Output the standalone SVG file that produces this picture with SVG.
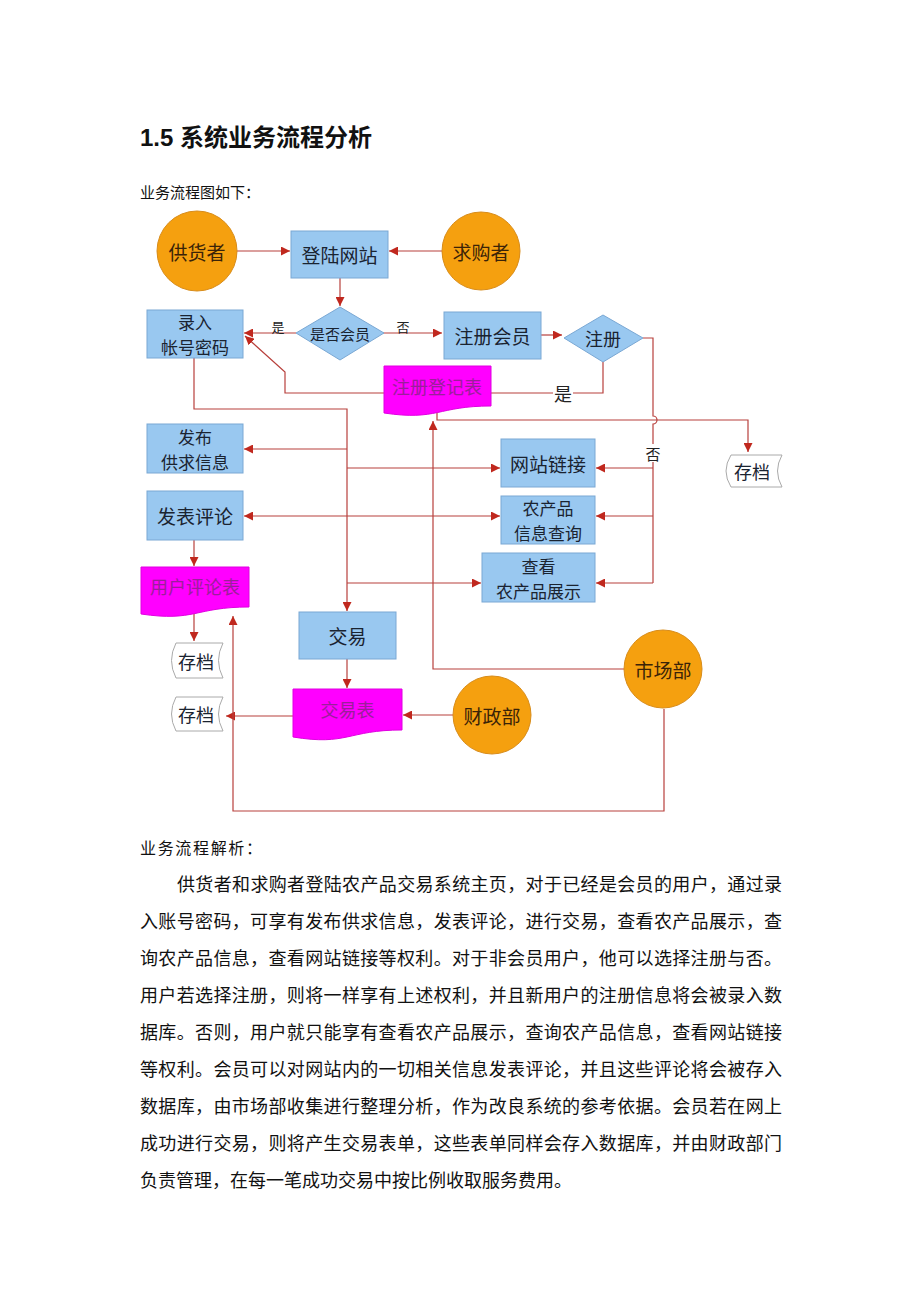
<svg xmlns="http://www.w3.org/2000/svg" width="920" height="1302" viewBox="0 0 920 1302">
<style>
text{font-family:"Noto Sans CJK SC","Liberation Sans",sans-serif;}
.title{font-family:"Liberation Sans","Noto Sans CJK SC",sans-serif;font-weight:bold;font-size:24px;fill:#111;}
.body{font-size:18px;fill:#111;}
.nt{font-size:19px;fill:#1a2330;text-anchor:middle;dominant-baseline:central;}
.nt2{font-size:17px;fill:#1a2330;text-anchor:middle;dominant-baseline:central;}
.ct{font-size:19px;fill:#3a2308;text-anchor:middle;dominant-baseline:central;}
.dt{font-size:18px;fill:#9a1f9a;text-anchor:middle;dominant-baseline:central;}
.lab{font-size:13px;fill:#222;text-anchor:middle;dominant-baseline:central;}
.box{fill:#99c8f0;stroke:#7aa8d4;stroke-width:1;}
.circ{fill:#f5a00f;stroke:#d88c1a;stroke-width:1;}
.doc{fill:#ff00ff;stroke:#e000e0;stroke-width:1;}
.sto{fill:#fff;stroke:#aaa;stroke-width:1;}
.ln{fill:none;stroke:#b8403c;stroke-width:1.2;}
</style>
<defs>
<marker id="ah" viewBox="0 0 10 10" refX="10" refY="5" markerWidth="9" markerHeight="9" markerUnits="userSpaceOnUse" orient="auto-start-reverse">
<path d="M0,0 L10,5 L0,10 Z" fill="#c0281e"/>
</marker>
</defs>

<text class="title" x="140" y="146">1.5 系统业务流程分析</text>
<text x="140" y="198" style="font-size:15px;fill:#111;">业务流程图如下：</text>

<g id="connectors">
<path class="ln" d="M237,251 H290" marker-end="url(#ah)"/>
<path class="ln" d="M442,251 H389" marker-end="url(#ah)"/>
<path class="ln" d="M340,278 V306" marker-end="url(#ah)"/>
<path class="ln" d="M296,333 H244" marker-end="url(#ah)"/>
<path class="ln" d="M383,333 H442" marker-end="url(#ah)"/>
<path class="ln" d="M541,335 H562" marker-end="url(#ah)"/>
<path class="ln" d="M603,362 V393 H491"/>
<path class="ln" d="M384,393 H285 V372 L245,336" marker-end="url(#ah)"/>
<path class="ln" d="M437,412 V420 H748 V452" marker-end="url(#ah)"/>
<path class="ln" d="M643,338 H653 V416 A4,4 0 0 1 653,424 V583"/>
<path class="ln" d="M653,468 H596" marker-end="url(#ah)"/>
<path class="ln" d="M653,516 H596" marker-end="url(#ah)"/>
<path class="ln" d="M653,583 H596" marker-end="url(#ah)"/>
<path class="ln" d="M194,358 V409 H347 V611" marker-end="url(#ah)"/>
<path class="ln" d="M347,449 H244" marker-end="url(#ah)"/>
<path class="ln" d="M347,468 H500" marker-end="url(#ah)"/>
<path class="ln" d="M244,516 H500" marker-start="url(#ah)" marker-end="url(#ah)"/>
<path class="ln" d="M347,583 H481" marker-end="url(#ah)"/>
<path class="ln" d="M194,540 V566" marker-end="url(#ah)"/>
<path class="ln" d="M194,614 V641" marker-end="url(#ah)"/>
<path class="ln" d="M347,659 V688" marker-end="url(#ah)"/>
<path class="ln" d="M293,716 H226" marker-end="url(#ah)"/>
<path class="ln" d="M453,715 H403" marker-end="url(#ah)"/>
<path class="ln" d="M624,669 H433 V421" marker-end="url(#ah)"/>
<path class="ln" d="M664,709 V811 H233 V616" marker-end="url(#ah)"/>
<text class="lab" x="278" y="326">是</text>
<text class="lab" x="403" y="326">否</text>
<rect x="553" y="382" width="20" height="22" fill="#fff"/>
<text class="lab" x="563" y="393" style="font-size:18px">是</text>
<rect x="645" y="444" width="16" height="18" fill="#fff"/>
<text class="lab" x="653" y="453" style="font-size:15px">否</text>
</g>

<g id="supplier"><circle class="circ" cx="197" cy="251" r="40"/><text class="ct" x="197" y="251">供货者</text></g>
<g id="login"><rect class="box" x="291" y="231" width="97" height="47"/><text class="nt" x="339.5" y="254.5">登陆网站</text></g>
<g id="buyer"><circle class="circ" cx="481" cy="251" r="39"/><text class="ct" x="481" y="251">求购者</text></g>
<g id="isMember"><polygon class="box" points="340,307 384,333 340,360 296,333"/><text class="nt" x="340" y="333" style="font-size:15px">是否会员</text></g>
<g id="enterAccount"><rect class="box" x="147" y="310" width="96" height="48"/><text class="nt2" x="195" y="321.5">录入</text><text class="nt2" x="195" y="346.5">帐号密码</text></g>
<g id="register"><rect class="box" x="444" y="312" width="97" height="47"/><text class="nt" x="492.5" y="335.5">注册会员</text></g>
<g id="registerDecision"><polygon class="box" points="603,315 643,338 603,362 564,338"/><text class="nt" x="603" y="338" style="font-size:18px">注册</text></g>
<g id="regForm"><path class="doc" d="M384,366 H491 V406 C437.5,406 437.5,421 384,413 Z"/><text class="dt" x="437" y="386">注册登记表</text></g>
<g id="archive1"><path class="sto" d="M731,455 H782 Q773,471 782,487 H731 Q721,471 731,455 Z"/><text class="nt" x="752" y="471" style="font-size:18px">存档</text></g>
<g id="publish"><rect class="box" x="147" y="424" width="96" height="49"/><text class="nt2" x="195" y="436">发布</text><text class="nt2" x="195" y="461">供求信息</text></g>
<g id="comment"><rect class="box" x="147" y="491" width="96" height="49"/><text class="nt" x="195" y="515.5">发表评论</text></g>
<g id="links"><rect class="box" x="501" y="439" width="94" height="48"/><text class="nt" x="548" y="463">网站链接</text></g>
<g id="query"><rect class="box" x="501" y="496" width="94" height="48"/><text class="nt2" x="548" y="507.5">农产品</text><text class="nt2" x="548" y="532.5">信息查询</text></g>
<g id="show"><rect class="box" x="482" y="553" width="113" height="49"/><text class="nt2" x="538.5" y="565">查看</text><text class="nt2" x="538.5" y="590">农产品展示</text></g>
<g id="commentForm"><path class="doc" d="M141,567 H249 V607 C195,607 195,622 141,614 Z"/><text class="dt" x="195" y="586">用户评论表</text></g>
<g id="archive2"><path class="sto" d="M176,643 H223 Q214,660.5 223,678 H176 Q167,660.5 176,643 Z"/><text class="nt" x="196" y="661" style="font-size:18px">存档</text></g>
<g id="archive3"><path class="sto" d="M176,697 H223 Q214,714 223,731 H176 Q167,714 176,697 Z"/><text class="nt" x="196" y="714" style="font-size:18px">存档</text></g>
<g id="trade"><rect class="box" x="299" y="612" width="97" height="47"/><text class="nt" x="347.5" y="635.5">交易</text></g>
<g id="tradeForm"><path class="doc" d="M293,689 H402 V730 C347.5,730 347.5,746 293,737 Z"/><text class="dt" x="347.5" y="709">交易表</text></g>
<g id="finance"><circle class="circ" cx="492" cy="715" r="39"/><text class="ct" x="492" y="715">财政部</text></g>
<g id="market"><circle class="circ" cx="663" cy="669" r="39"/><text class="ct" x="663" y="669">市场部</text></g>

<text class="body" x="140" y="854" style="font-size:16px" textLength="122" lengthAdjust="spacing">业务流程解析：</text>
<text class="body" x="177" y="891" textLength="605" lengthAdjust="spacing">供货者和求购者登陆农产品交易系统主页，对于已经是会员的用户，通过录</text>
<text class="body" x="140" y="928" textLength="642" lengthAdjust="spacing">入账号密码，可享有发布供求信息，发表评论，进行交易，查看农产品展示，查</text>
<text class="body" x="140" y="965" textLength="642" lengthAdjust="spacing">询农产品信息，查看网站链接等权利。对于非会员用户，他可以选择注册与否。</text>
<text class="body" x="140" y="1002" textLength="642" lengthAdjust="spacing">用户若选择注册，则将一样享有上述权利，并且新用户的注册信息将会被录入数</text>
<text class="body" x="140" y="1039" textLength="642" lengthAdjust="spacing">据库。否则，用户就只能享有查看农产品展示，查询农产品信息，查看网站链接</text>
<text class="body" x="140" y="1076" textLength="642" lengthAdjust="spacing">等权利。会员可以对网站内的一切相关信息发表评论，并且这些评论将会被存入</text>
<text class="body" x="140" y="1113" textLength="642" lengthAdjust="spacing">数据库，由市场部收集进行整理分析，作为改良系统的参考依据。会员若在网上</text>
<text class="body" x="140" y="1150" textLength="642" lengthAdjust="spacing">成功进行交易，则将产生交易表单，这些表单同样会存入数据库，并由财政部门</text>
<text class="body" x="140" y="1187">负责管理，在每一笔成功交易中按比例收取服务费用。</text>
</svg>
